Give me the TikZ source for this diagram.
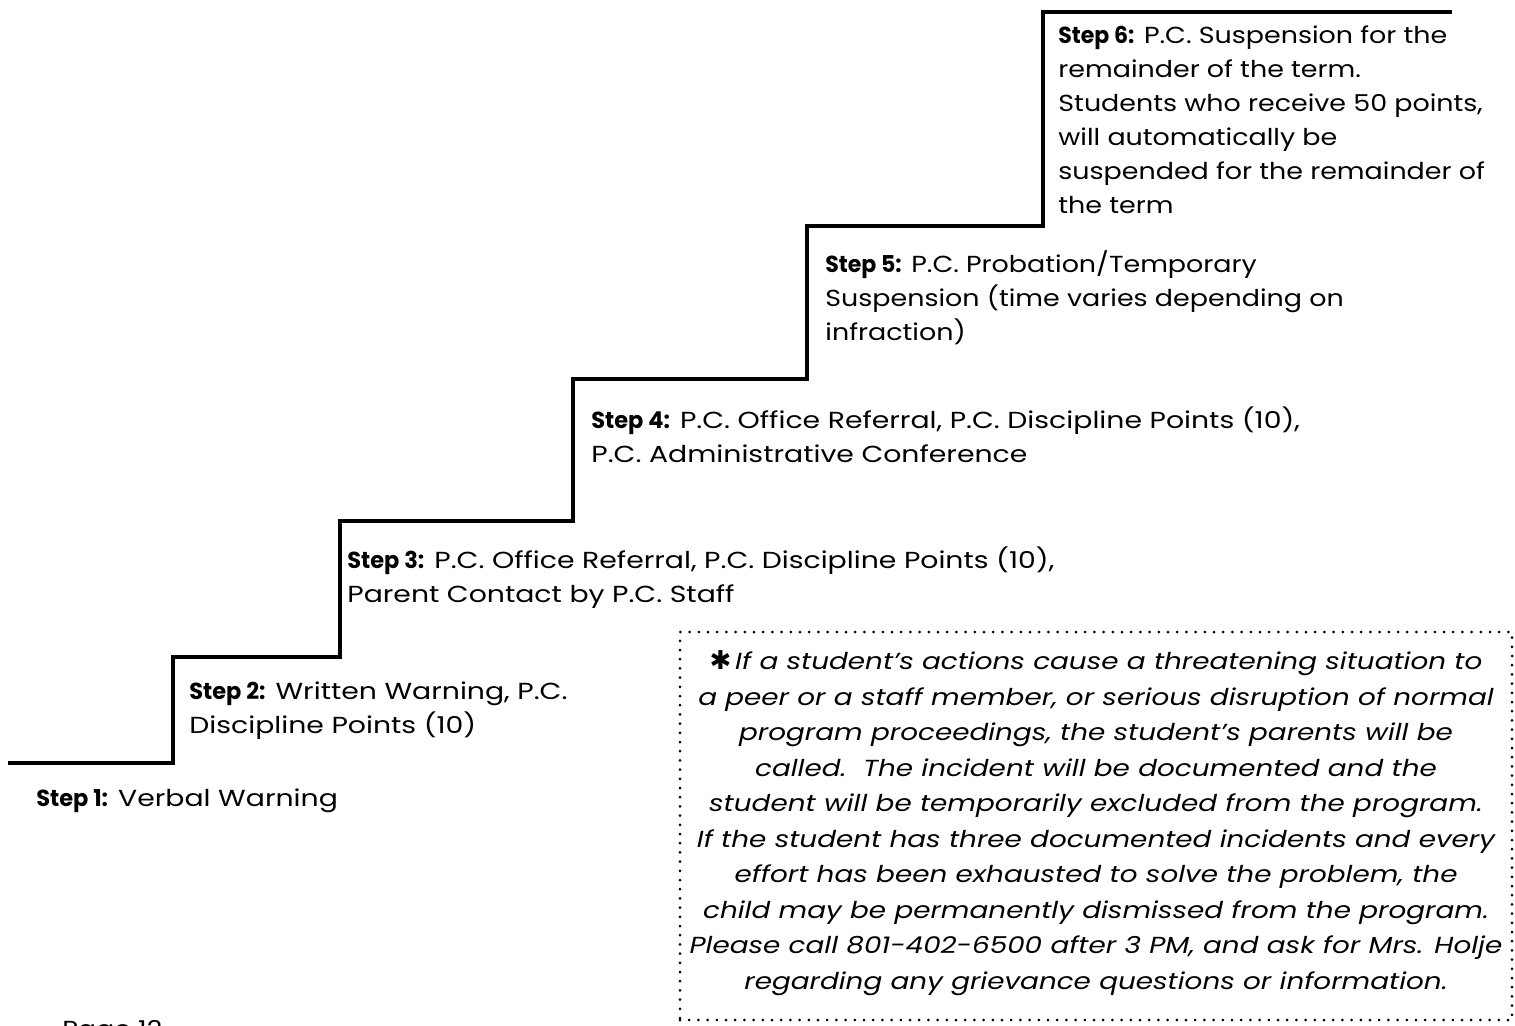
\documentclass[tikz,border=0pt]{standalone}
\usepackage{fontspec}
\setmainfont{Poppins}[UprightFeatures={FakeStretch=1.16},BoldFeatures={FakeStretch=0.95},ItalicFeatures={FakeStretch=1.2}]
\newfontfamily\widefont{Poppins}[UprightFeatures={FakeStretch=1.22},BoldFeatures={FakeStretch=0.97}]
\newfontfamily\symfont{DejaVu Sans}
\begin{document}
\begin{tikzpicture}[x=0.5pt,y=-0.5pt,
  stair/.style={line width=2pt,line join=miter},
  steptext/.style={anchor=north west,inner sep=0pt,align=left,font=\fontsize{11.6}{17}\selectfont},
  widetext/.style={steptext,font=\widefont\fontsize{11.6}{17}\selectfont},
  notetext/.style={inner sep=0pt,align=center,font=\itshape\fontsize{11.6}{17.75}\selectfont},
  dotbox/.style={draw,line width=1.5pt,line cap=round,dash pattern=on 0pt off 4.6pt,inner sep=0pt}
]
\useasboundingbox (0,0) rectangle (1515,1025);
\clip (0,0) rectangle (1515,1025);
% staircase corners
\coordinate (c0) at (8,763);
\coordinate (c1) at (173,763);
\coordinate (c2) at (173,657);
\coordinate (c3) at (340,657);
\coordinate (c4) at (340,521);
\coordinate (c5) at (573,521);
\coordinate (c6) at (573,379);
\coordinate (c7) at (807,379);
\coordinate (c8) at (807,226);
\coordinate (c9) at (1043,226);
\coordinate (c10) at (1043,12);
\coordinate (c11) at (1452,12);
\draw[stair] (c0) -- (c1) -- (c2) -- (c3) -- (c4) -- (c5) -- (c6) -- (c7) -- (c8) -- (c9) -- (c10) -- (c11);

\node[steptext] (st6) at (1058,25) {\textbf{Step 6:} P.C. Suspension for the\\remainder of the term.\\Students who receive 50 points,\\will automatically be\\suspended for the remainder of\\the term};
\node[steptext] (st5) at (825,250) {\textbf{Step 5:} P.C. Probation/Temporary\\Suspension (time varies depending on\\infraction)};
\node[widetext] (st4) at (591,406) {\textbf{Step 4:} P.C. Office Referral, P.C. Discipline Points (10),\\P.C. Administrative Conference};
\node[widetext] (st3) at (347,546) {\textbf{Step 3:} P.C. Office Referral, P.C. Discipline Points (10),\\Parent Contact by P.C. Staff};
\node[widetext] (st2) at (189,681) {\textbf{Step 2:} Written Warning, P.C.\\Discipline Points (10)};
\node[widetext] (st1) at (36,788) {\textbf{Step 1:} Verbal Warning};

\node[dotbox,minimum width=416pt,minimum height=194pt] (box) at (1096,826) {};
\node[notetext] (note) at (1096,823) {{\upshape\symfont\fontsize{13}{17}\selectfont ✱}\,If a student’s actions cause a threatening situation to\\a peer or a staff member, or serious disruption of normal\\program proceedings, the student’s parents will be\\called.\ \ The incident will be documented and the\\student will be temporarily excluded from the program.\\If the student has three documented incidents and every\\effort has been exhausted to solve the problem, the\\child may be permanently dismissed from the program.\\Please call 801-402-6500 after 3 PM, and ask for Mrs. Holje\\regarding any grievance questions or information.};

\node[steptext] (page) at (62,1020) {Page 12};
\end{tikzpicture}
\end{document}
